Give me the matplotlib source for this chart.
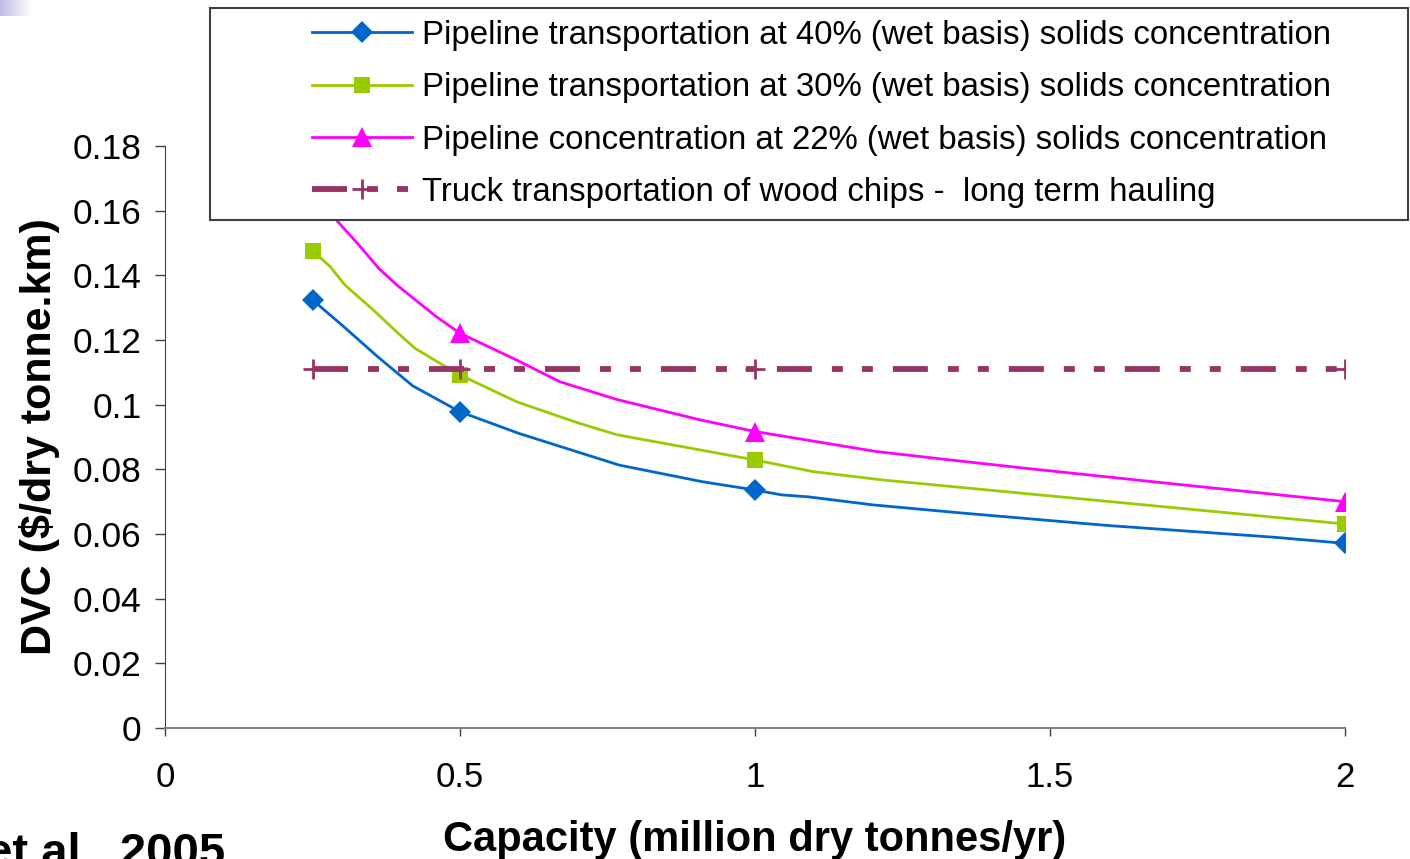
import numpy as np
import matplotlib
matplotlib.use('Agg')
import matplotlib.pyplot as plt
from matplotlib.patches import Rectangle
from matplotlib.colors import LinearSegmentedColormap

plt.rcParams['font.family'] = ['Liberation Sans', 'DejaVu Sans']
plt.rcParams['lines.scale_dashes'] = False

# Donnees
x_40 = [0.25, 0.30, 0.36, 0.42, 0.50, 0.60, 0.77, 0.91, 1.00, 1.045, 1.09, 1.20, 1.35, 1.60, 1.88, 2.00]
y_40 = [0.1324, 0.1246, 0.1149, 0.1058, 0.0978, 0.0911, 0.0813, 0.0762, 0.0736, 0.0721, 0.0715,
        0.0690, 0.0665, 0.0626, 0.0590, 0.0571]

x_30 = [0.25, 0.28, 0.305, 0.353, 0.395, 0.424, 0.466, 0.50, 0.596, 0.669, 0.703, 0.766, 0.907,
        1.00, 1.098, 1.217, 2.00]
y_30 = [0.1476, 0.1427, 0.1370, 0.1293, 0.1221, 0.1174, 0.1128, 0.1092, 0.1009, 0.0963, 0.0942,
        0.0907, 0.0860, 0.0829, 0.0793, 0.0767, 0.0631]

x_22 = [0.25, 0.291, 0.331, 0.362, 0.393, 0.46, 0.50, 0.596, 0.669, 0.766, 0.907, 1.00, 1.206,
        1.331, 1.46, 1.73, 2.00]
y_22 = [0.167, 0.157, 0.1489, 0.1422, 0.1370, 0.1272, 0.1221, 0.1138, 0.1071, 0.1016, 0.0953,
        0.0917, 0.0855, 0.0829, 0.0803, 0.0751, 0.0700]

x_truck = [0.25, 0.5, 1.0, 2.0]
y_truck = [0.111, 0.111, 0.111, 0.111]

marker_x = [0.25, 0.5, 1.0, 2.0]

labels = ['Pipeline transportation at 40% (wet basis) solids concentration',
          'Pipeline transportation at 30% (wet basis) solids concentration',
          'Pipeline concentration at 22% (wet basis) solids concentration',
          'Truck transportation of wood chips -  long term hauling']


def marks(xs):
    return [i for i, v in enumerate(xs) if v in marker_x]


fig = plt.figure(figsize=(14.1, 8.59), dpi=100)
ax = fig.add_axes([165 / 1410, 1 - 728 / 859, 1180 / 1410, 582 / 859])

l1, = ax.plot(x_40, y_40, color='#0066CC', lw=2, marker='D', ms=11.5, mew=0,
              markevery=marks(x_40))
l2, = ax.plot(x_30, y_30, color='#99CC00', lw=2, marker='s', ms=11, mew=0,
              markevery=marks(x_30))
l3, = ax.plot(x_22, y_22, color='#FF00FF', lw=2, marker='^', ms=14, mew=0,
              markevery=marks(x_22))
l4, = ax.plot(x_truck, y_truck, color='#993366', lw=4.2, marker='+', ms=14, mew=2,
              linestyle=(0, (25.2, 14.4, 7.9, 13.7, 7.9, 14.4)))

ax.set_xlim(0, 2)
ax.set_ylim(0, 0.18)
ax.set_xticks([0, 0.5, 1, 1.5, 2])
ax.set_xticklabels(['0', '0.5', '1', '1.5', '2'])
ax.set_yticks(np.arange(0, 0.181, 0.02))
ax.set_yticklabels(['0', '0.02', '0.04', '0.06', '0.08', '0.1', '0.12', '0.14', '0.16', '0.18'])
ax.spines['top'].set_visible(False)
ax.spines['right'].set_visible(False)
ax.spines['left'].set_color('#404040')
ax.spines['bottom'].set_color('#808080')
ax.spines['bottom'].set_linewidth(1.5)
ax.tick_params(axis='x', direction='out', length=6, width=1, color='#404040', labelsize=25, pad=18)
ax.tick_params(axis='y', direction='out', length=7, width=1, color='#404040', labelsize=25.5, pad=10)

ax.set_xlabel('Capacity (million dry tonnes/yr)', fontsize=30, fontweight='bold')
ax.set_ylabel('DVC ($/dry tonne.km)', fontsize=31, fontweight='bold')
ax.xaxis.set_label_coords(0.5, -0.158)
ax.yaxis.set_label_coords(-0.089, 0.5)

# Cadre de la legende (debordant a droite)
rect = Rectangle((210 / 1410, 1 - 220 / 859), 1198 / 1410, 212 / 859, transform=fig.transFigure,
                 facecolor='white', edgecolor='#404040', lw=1.5, zorder=2)
fig.add_artist(rect)

leg = fig.legend([l1, l2, l3, l4], labels, loc='upper left',
                 bbox_to_anchor=(312 / 1410, 1 - 20 / 859), frameon=False, fontsize=23.8,
                 borderpad=0, borderaxespad=0, handlelength=3.03, handletextpad=0.3,
                 labelspacing=0.645)
leg.set_zorder(5)

# Reference tronquee en bas a gauche
fig.text(225 / 1410, 1 - 866 / 859, 'et al., 2005', fontsize=34, fontweight='bold',
         ha='right', va='baseline')

# Petit degrade en haut a gauche
axg = fig.add_axes([0, 1 - 16 / 859, 32 / 1410, 16 / 859])
cmap = LinearSegmentedColormap.from_list('g', ['#bcbce6', '#ffffff'])
axg.imshow(np.linspace(0, 1, 50).reshape(1, -1), aspect='auto', cmap=cmap)
axg.axis('off')

fig.savefig('out.png', dpi=100)
